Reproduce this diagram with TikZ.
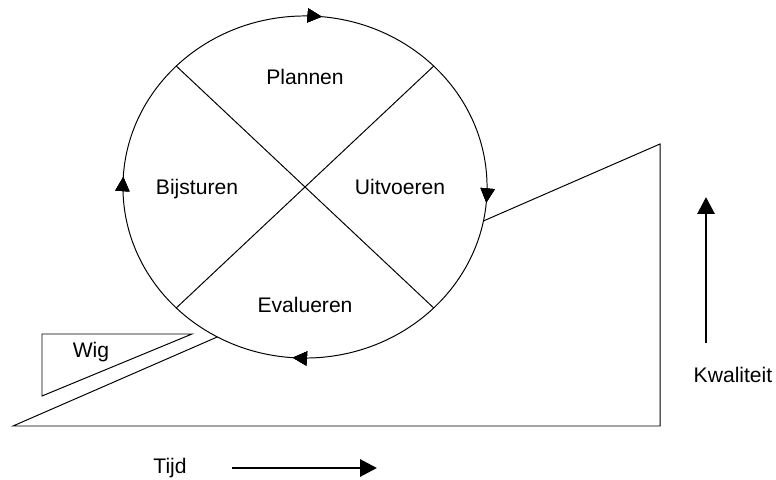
\documentclass[tikz,border=0pt]{standalone}
\usepackage{fontspec}
\setmainfont{Liberation Sans}
\usetikzlibrary{calc}
\usetikzlibrary{arrows.meta}
\usetikzlibrary{decorations.markings}

\begin{document}
\begin{tikzpicture}[x=0.025cm,y=-0.025cm,
  every node/.style={font=\fontsize{15}{18}\selectfont,inner sep=0pt},
  thin line/.style={line width=0.7pt},
  big arrow/.style={line width=2.1pt,-{Triangle[length=12pt,width=12pt]}},
  turn tip/.style={decoration={markings,
    mark=at position #1 with {\arrow{Triangle[length=10pt,width=10pt]}}},postaction=decorate}]

\useasboundingbox (0,0) rectangle (776,480);

\coordinate (ramp base) at (13,426);
\coordinate (ramp corner) at (660,426);
\coordinate (ramp top) at (660,144);
\draw[thin line] (ramp base) -- (ramp corner) -- (ramp top) -- cycle;

\coordinate (centre) at (305,187);

\path (centre) ++(180:4.55cm and 4.275cm) coordinate (W);
\path (centre) ++(45:4.55cm and 4.275cm) coordinate (NE);
\path (centre) ++(135:4.55cm and 4.275cm) coordinate (NW);
\path (centre) ++(225:4.55cm and 4.275cm) coordinate (SW);
\path (centre) ++(315:4.55cm and 4.275cm) coordinate (SE);

\draw[thin line,fill=white,turn tip=0.009,turn tip=0.265,turn tip=0.514,turn tip=0.761]
  (W) arc[start angle=180,end angle=-180,x radius=4.55cm,y radius=4.275cm];

\draw[thin line] (NW) -- (SE);
\draw[thin line] (NE) -- (SW);

\node[anchor=base] (plannen) at (305,84) {Plannen};
\node[anchor=base] (uitvoeren) at (400,194) {Uitvoeren};
\node[anchor=base] (evalueren) at (305,312) {Evalueren};
\node[anchor=base] (bijsturen) at (197,194) {Bijsturen};

% wig
\coordinate (wig a) at (42,334);
\coordinate (wig b) at (192,334);
\coordinate (wig c) at (42,396);
\draw[thin line] (wig a) -- (wig b) -- (wig c) -- cycle;
\node[anchor=base] (wig) at (91,357) {Wig};

\node[anchor=base] (kwaliteit) at (733,382) {Kwaliteit};
\coordinate (kwal low) at (706,343);
\coordinate (kwal high) at (706,197);
\draw[big arrow] (kwal low) -- (kwal high);

\node[anchor=base] (tijd) at (170,473) {Tijd};
\coordinate (tijd start) at (232,468);
\coordinate (tijd end) at (377,468);
\draw[big arrow] (tijd start) -- (tijd end);

\end{tikzpicture}
\end{document}
